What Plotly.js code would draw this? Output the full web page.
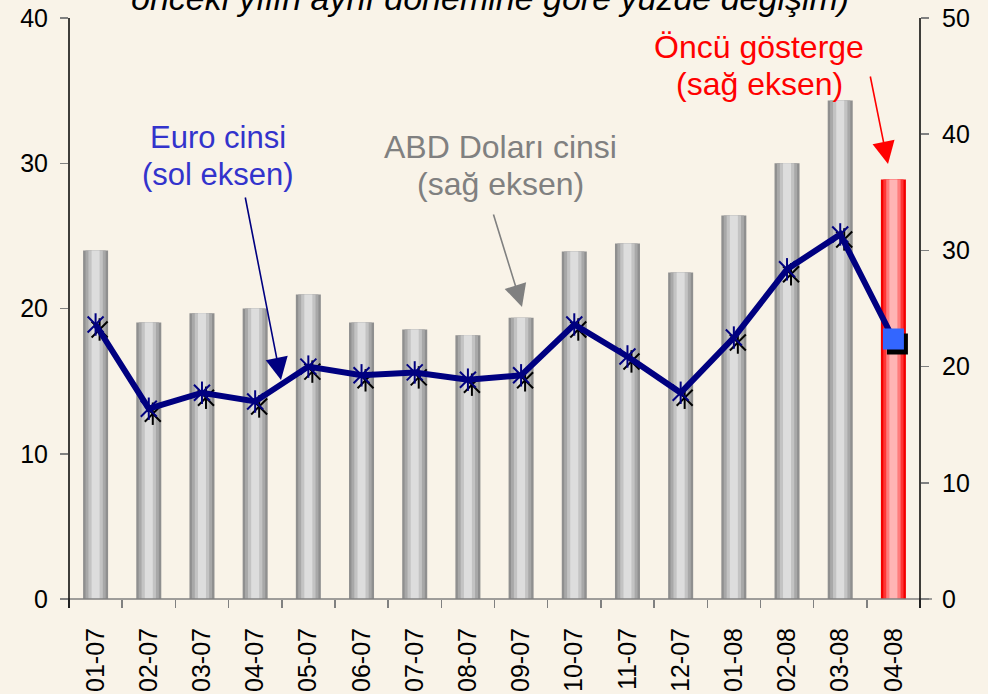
<!DOCTYPE html>
<html><head><meta charset="utf-8">
<script src="https://cdn.plot.ly/plotly-3.0.1.min.js"></script>
<style>body{margin:0;background:#f9f3e8}</style>
</head><body><div id="chart" style="width:988px;height:694px"></div>
<script>
const months = ['01-07','02-07','03-07','04-07','05-07','06-07','07-07','08-07','09-07','10-07','11-07','12-07','01-08','02-08','03-08','04-08'];
// ABD Doları cinsi (sağ eksen); last value = öncü gösterge
const usdGrowth = [30.0, 23.8, 24.6, 25.0, 26.2, 23.8, 23.2, 22.7, 24.2, 29.9, 30.6, 28.1, 33.0, 37.5, 42.9, 36.1];
// Euro cinsi (sol eksen)
const euroGrowth = [18.9, 13.1, 14.2, 13.6, 16.0, 15.4, 15.6, 15.1, 15.4, 18.9, 16.7, 14.2, 18.0, 22.7, 25.1, 17.9];

const n = months.length;
const isLead = i => i === n - 1;
const FONT = 'Liberation Sans, Arial, sans-serif';

const layers = [
  {w:0.47, g:'#8f8f8f', r:'#f20000'},
  {w:0.38, g:'#a8a8a8', r:'#ff3434'},
  {w:0.27, g:'#c3c3c3', r:'#ff7c7c'},
  {w:0.15, g:'#dddddd', r:'#ffb4b4'}
];
const traces = layers.map(L => ({
  type:'bar', x: months, y: usdGrowth, xaxis:'x', yaxis:'y', width: L.w,
  marker:{color: months.map((m,i)=> isLead(i) ? L.r : L.g), line:{width:0}},
  hoverinfo:'skip', showlegend:false
}));

// star marker = x + vertical line; leading indicator = square
function markerTraces(xa, ya, color, squareColor, withLine) {
  const out = [];
  if (withLine) out.push({type:'scatter', mode:'lines', x: months, y: euroGrowth, xaxis:xa, yaxis:ya,
    line:{color:'#000080', width:6}, showlegend:false, hoverinfo:'skip'});
  ['x-thin-open','line-ns-open'].forEach(sym => out.push({
    type:'scatter', mode:'markers', x: months.slice(0, n-1), y: euroGrowth.slice(0, n-1), xaxis:xa, yaxis:ya,
    marker:{symbol: sym, size:16, color: color, line:{color: color, width:2}}, showlegend:false, hoverinfo:'skip'}));
  out.push({type:'scatter', mode:'markers', x: months.slice(n-1), y: euroGrowth.slice(n-1), xaxis:xa, yaxis:ya,
    marker:{symbol:'square', size:21, color: squareColor, line:{width:0}}, showlegend:false, hoverinfo:'skip'});
  return out;
}
markerTraces('x2','y2','#000000','#000000', false).forEach(t => traces.push(t));
markerTraces('x3','y3','#000080','#3366ff', true).forEach(t => traces.push(t));

const pxX = p => (p - 69) / 851;
const pxY = p => (599 - p) / 581;
const dx = 4 / (851 / 16), dy = 5 / (581 / 40);

const tickStyle = {ticks:'outside', ticklen:8, tickcolor:'#808080', tickwidth:1.5, showgrid:false, zeroline:false, tickfont:{family:FONT, size:25, color:'#000'}};

function label(text, px, py, size, color, style) {
  return {xref:'paper', yref:'paper', x:pxX(px), y:pxY(py), xanchor:'center', yanchor:'middle', showarrow:false,
          text:text, font:{family:FONT, size:size, color:color, style:style || 'normal'}};
}
function arrow(tx, ty, ax, ay, color) {
  return {xref:'paper', yref:'paper', x:pxX(tx), y:pxY(ty), ax:ax, ay:ay, text:'', showarrow:true,
          arrowhead:2, arrowsize:2.8, arrowwidth:1.6, arrowcolor:color};
}

const layout = {
  width:988, height:694,
  margin:{l:69, r:68, t:18, b:95},
  paper_bgcolor:'#f9f3e8', plot_bgcolor:'#f9f3e8',
  barmode:'overlay', showlegend:false,
  font:{family:FONT},
  xaxis: Object.assign({}, tickStyle, {type:'category', range:[-0.5, 15.5], tickson:'boundaries', tickangle:-90, showline:false, ticklabelstandoff:23}),
  yaxis: Object.assign({}, tickStyle, {side:'right', range:[0,50], dtick:10, showline:false, ticklabelstandoff:8}),
  xaxis2:{type:'category', overlaying:'x', range:[-0.5-dx, 15.5-dx], visible:false},
  yaxis2:{overlaying:'y', range:[dy, 40+dy], visible:false},
  xaxis3:{type:'category', overlaying:'x', range:[-0.5, 15.5], visible:false},
  yaxis3: Object.assign({}, tickStyle, {overlaying:'y', side:'left', range:[0,40], dtick:10, showline:false, ticklabelstandoff:7}),
  shapes:[
    {type:'line', xref:'paper', yref:'paper', x0:-8/851, x1:1+12/851, y0:0, y1:0, line:{color:'#808080', width:1.5}},
    {type:'line', xref:'paper', yref:'paper', x0:0, x1:0, y0:-9/581, y1:1, line:{color:'#000', width:1.5}},
    {type:'line', xref:'paper', yref:'paper', x0:1, x1:1, y0:-9/581, y1:1, line:{color:'#000', width:1.5}}
  ],
  annotations:[
    label('önceki yılın aynı dönemine göre yüzde değişim)', 490, -2, 34, '#000', 'italic'),
    label('Euro cinsi', 218, 137, 31, '#3333cc'),
    label('(sol eksen)', 218, 174, 31, '#3333cc'),
    label('ABD Doları cinsi', 500, 147, 32, '#808080'),
    label('(sağ eksen)', 500, 184, 32, '#808080'),
    label('Öncü gösterge', 759, 47, 32, '#ff0000'),
    label('(sağ eksen)', 759, 84, 32, '#ff0000'),
    arrow(281, 380, -36, -184, '#000080'),
    arrow(522, 307, -29, -94, '#808080'),
    arrow(888, 164, -18, -89, '#ff0000')
  ]
};
Plotly.newPlot('chart', traces, layout, {displayModeBar:false, staticPlot:true});
</script></body></html>
